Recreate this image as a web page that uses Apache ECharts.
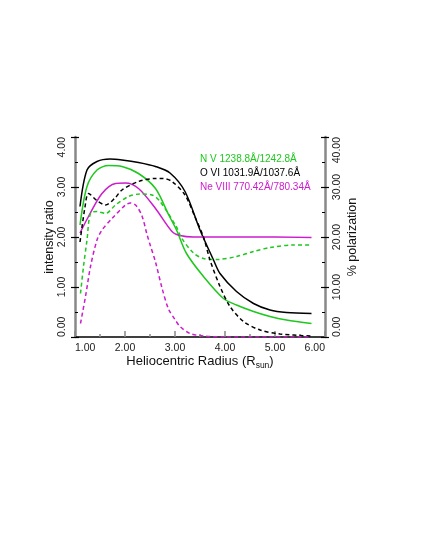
<!DOCTYPE html>
<html>
<head>
<meta charset="utf-8">
<script src="https://cdn.jsdelivr.net/npm/echarts@6/dist/echarts.min.js"></script>
<style>
  html, body { margin: 0; padding: 0; background: #fff; }
  #chart { width: 425px; height: 550px; }
</style>
</head>
<body>
<div id="chart"></div>
<script>
// legend names
var names = ['N V 1238.8Å/1242.8Å', 'O VI 1031.9Å/1037.6Å', 'Ne VIII 770.42Å/780.34Å'];
var colors = ['#1ec81e', '#000000', '#cc1ccc'];

// intensity ratio (solid lines), [radius, ratio]
var nvRatio = [[1.1,2.24],[1.24,3.01],[1.44,3.34],[1.67,3.43],[1.94,3.41],[2.27,3.27],[2.61,2.97],[2.87,2.45],[3.03,2.14],[3.23,1.67],[3.57,1.21],[3.97,0.77],[4.23,0.64],[4.57,0.51],[4.9,0.41],[5.23,0.34],[5.73,0.27]];
var oviRatio = [[1.1,2.61],[1.24,3.34],[1.44,3.51],[1.7,3.56],[1.94,3.54],[2.27,3.49],[2.61,3.41],[2.9,3.28],[3.2,2.91],[3.5,2.14],[3.77,1.54],[3.9,1.27],[4.23,0.91],[4.57,0.67],[4.9,0.54],[5.23,0.49],[5.73,0.47]];
var neRatio = [[1.1,2.08],[1.27,2.41],[1.54,2.87],[1.81,3.07],[2.01,3.08],[2.27,2.97],[2.61,2.57],[2.94,2.11],[3.1,2.03],[3.37,2.0],[4.0,2.0],[5.0,2.0],[5.73,1.99]];

// % polarization (dashed lines), [radius, percent]
var nvPol = [[1.11,8.7],[1.17,14.1],[1.24,19.4],[1.31,24.7],[1.44,25.1],[1.61,24.7],[1.81,26.4],[2.07,28.1],[2.3,28.6],[2.54,28.4],[2.7,27.1],[3.03,22],[3.13,19.8],[3.37,16.8],[3.57,15.7],[3.83,15.5],[4.23,16.1],[4.57,17.1],[4.9,17.9],[5.37,18.4],[5.73,18.4]];
var oviPol = [[1.1,19],[1.2,26],[1.27,28.7],[1.45,27.2],[1.61,26.4],[1.8,27.8],[1.94,29.4],[2.27,31.1],[2.6,31.7],[2.75,31.7],[2.94,31.1],[3.2,28.4],[3.4,24],[3.57,20],[3.7,15.4],[3.9,10.1],[4.1,6.1],[4.37,3.1],[4.7,1.4],[5.1,0.6],[5.73,0.2]];
var nePol = [[1.11,2.7],[1.21,8.1],[1.31,14.1],[1.44,19.4],[1.54,21.4],[1.74,23.7],[2.01,26.4],[2.11,26.8],[2.22,26.3],[2.34,24.2],[2.44,20.5],[2.51,18.2],[2.61,15],[2.74,9.8],[2.87,5.6],[3.0,3.5],[3.1,2.1],[3.3,0.7],[3.57,0.2],[4.0,0],[5.73,0]];

var font = 'Liberation Sans, Arial, sans-serif';

function solid(i, data) {
  return {
    name: names[i], type: 'line', data: data, yAxisIndex: 0,
    smooth: 0.3, showSymbol: false,
    lineStyle: { color: colors[i], width: 1.5 }, itemStyle: { color: colors[i] }
  };
}
function dashed(i, data) {
  return {
    name: names[i], type: 'line', data: data, yAxisIndex: 1,
    smooth: 0.3, showSymbol: false,
    lineStyle: { color: colors[i], width: 1.5, type: [4, 3] }, itemStyle: { color: colors[i] }
  };
}

var chart = echarts.init(document.getElementById('chart'));
var fmt = function (v) { return v.toFixed(2); };

var option = {
  animation: false,
  textStyle: { fontFamily: font },
  grid: { left: 75, right: 100, top: 137, bottom: 213 },
  legend: {
    orient: 'vertical', left: 190, top: 149, itemGap: 4,
    icon: 'none', itemWidth: 0, itemHeight: 10,
    selectedMode: false,
    textStyle: { fontSize: 10, fontFamily: font },
    data: names.map(function (n, i) { return { name: n, textStyle: { color: colors[i] } }; })
  },
  xAxis: {
    type: 'value', min: 1, max: 6, interval: 1,
    name: 'Heliocentric Radius (R{s|sun})',
    nameLocation: 'middle', nameGap: 16,
    nameTextStyle: { fontSize: 13, color: '#111', fontFamily: font,
      rich: { s: { fontSize: 8.5, padding: [8, 0, 0, 0], fontFamily: font, color: '#111' } } },
    axisLine: { lineStyle: { color: '#000', width: 1.5 } },
    axisTick: { inside: true, length: 6, lineStyle: { color: '#888', width: 1.5 } },
    minorTick: { show: true, splitNumber: 2, length: 3, lineStyle: { color: '#888', width: 1.5 } },
    axisLabel: { formatter: fmt, fontSize: 10.5, color: '#222', margin: 6,
      alignMinLabel: 'left', alignMaxLabel: 'right', showMinLabel: true, showMaxLabel: true, hideOverlap: false },
    splitLine: { show: false }
  },
  yAxis: [
    {
      type: 'value', min: 0, max: 4, interval: 1, position: 'left',
      name: 'intensity ratio', nameLocation: 'middle', nameRotate: 90, nameGap: 19,
      nameMoveOverlap: false,
      nameTextStyle: { fontSize: 12.5, color: '#111', fontFamily: font },
      axisLine: { show: true, lineStyle: { color: '#888', width: 2.5 } },
      axisTick: { show: true, inside: false, length: 4, lineStyle: { color: '#000', width: 1.2 } },
      axisLabel: { formatter: fmt, rotate: 90, fontSize: 10.5, color: '#222', margin: 7,
        alignMinLabel: 'left', alignMaxLabel: 'right', showMinLabel: true, showMaxLabel: true, hideOverlap: false },
      splitLine: { show: false }
    },
    {
      type: 'value', min: 0, max: 40, interval: 10, position: 'right',
      name: '% polarization', nameLocation: 'middle', nameRotate: 90, nameGap: 21,
      nameMoveOverlap: false,
      nameTextStyle: { fontSize: 12.5, color: '#111', fontFamily: font },
      axisLine: { show: true, lineStyle: { color: '#888', width: 2.5 } },
      axisTick: { show: true, inside: false, length: 4, lineStyle: { color: '#000', width: 1.2 } },
      axisLabel: { formatter: fmt, rotate: 90, fontSize: 10.5, color: '#222', margin: 7,
        alignMinLabel: 'left', alignMaxLabel: 'right', showMinLabel: true, showMaxLabel: true, hideOverlap: false },
      splitLine: { show: false }
    },
    {
      // inner half of the left ticks
      type: 'value', min: 0, max: 4, interval: 1, position: 'left',
      axisLine: { show: false }, axisLabel: { show: false }, splitLine: { show: false },
      axisTick: { show: true, inside: true, length: 4, lineStyle: { color: '#000', width: 1.2 } },
      minorTick: { show: true, splitNumber: 2, length: 3, lineStyle: { color: '#000', width: 1 } }
    },
    {
      // inner half of the right ticks
      type: 'value', min: 0, max: 40, interval: 10, position: 'right',
      axisLine: { show: false }, axisLabel: { show: false }, splitLine: { show: false },
      axisTick: { show: true, inside: true, length: 4, lineStyle: { color: '#000', width: 1.2 } },
      minorTick: { show: true, splitNumber: 2, length: 3, lineStyle: { color: '#000', width: 1 } }
    }
  ],
  series: [
    solid(0, nvRatio), solid(1, oviRatio), solid(2, neRatio),
    dashed(0, nvPol), dashed(1, oviPol), dashed(2, nePol)
  ]
};

chart.setOption(option);
</script>
</body>
</html>
